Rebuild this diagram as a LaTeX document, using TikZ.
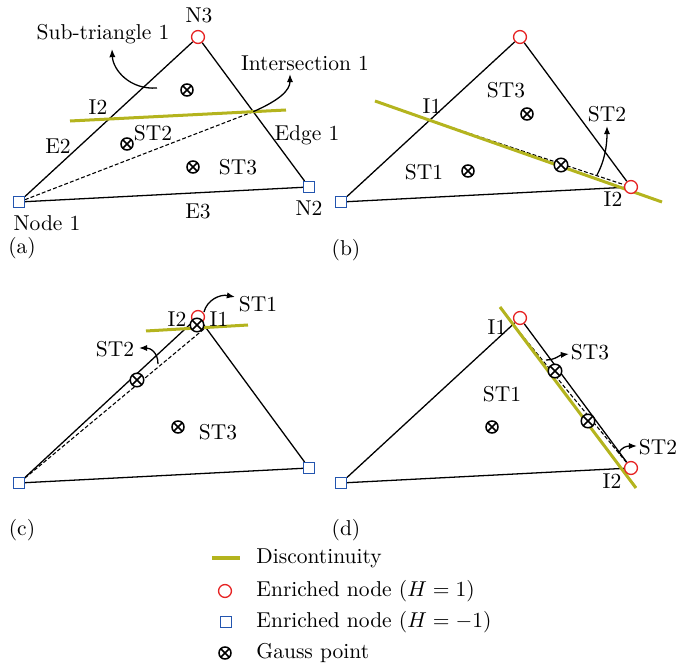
\documentclass[tikz,border=0pt]{standalone}
\usetikzlibrary{arrows.meta}
\definecolor{disc}{RGB}{180,180,30}
\definecolor{enrred}{RGB}{230,35,35}
\definecolor{enrblue}{RGB}{35,85,175}
\pgfdeclarelayer{bg}
\pgfdeclarelayer{mid}
\pgfsetlayers{bg,mid,main}
\tikzset{
 edge/.style={line width=0.6pt},
 dline/.style={line width=0.5pt, dash pattern=on 1.8pt off 1pt},
 discline/.style={draw=disc, line width=1.4pt},
 rnode/.style={circle, draw=enrred, fill=white, line width=0.6pt, minimum size=6pt, inner sep=0pt},
 bnode/.style={rectangle, draw=enrblue, fill=white, line width=0.65pt, minimum size=4.9pt, inner sep=0pt},
 gauss/.style={circle, draw, fill=white, line width=0.7pt, minimum size=5.6pt, inner sep=0pt,
   path picture={\draw[line width=0.7pt] (path picture bounding box.north west) -- (path picture bounding box.south east)
     (path picture bounding box.north east) -- (path picture bounding box.south west);}},
 biggauss/.style={gauss, minimum size=6.3pt},
 lbl/.style={inner sep=0pt},
 callout/.style={line width=0.6pt, -{Latex[length=3.8pt,width=2.9pt]}},
}
\begin{document}
\begin{tikzpicture}[x=0.4651pt,y=-0.4651pt]
\useasboundingbox (0,0) rectangle (691,666);

% ---------------- (a) ----------------
\node[bnode] (a1) at (19,202) {};
\node[bnode] (a2) at (309,187) {};
\node[rnode] (a3) at (198,37) {};
\coordinate (ad1) at (70,121);
\coordinate (ad2) at (286,110);
\coordinate (aI1) at (intersection of a3--a2 and ad1--ad2);
\begin{pgfonlayer}{bg}
\draw[edge] (a1) -- (a3) (a3) -- (a2) (a1) -- (a2);
\draw[dline] (a1) -- (aI1);
\end{pgfonlayer}
\begin{pgfonlayer}{mid}
\draw[discline] (ad1) -- (ad2);
\end{pgfonlayer}
\node[gauss] (ag1) at (187,90) {};
\node[gauss] (ag2) at (127,144) {};
\node[gauss] (ag3) at (193,167) {};
\node[lbl] (aN3) at (199,15) {N3};
\node[lbl] (aSub) at (103,34) {Sub-triangle 1};
\node[lbl] (aInt) at (305,63) {Intersection 1};
\node[lbl] (aI2) at (98,107) {I2};
\node[lbl] (aST2) at (153,133) {ST2};
\node[lbl] (aE2) at (58,146) {E2};
\node[lbl] (aEdge) at (307,135) {Edge 1};
\node[lbl] (aST3) at (238,167) {ST3};
\node[lbl] (aE3) at (198,211) {E3};
\node[lbl] (aN2) at (309,208) {N2};
\node[lbl] (aNode) at (47,223) {Node 1};
\node[lbl] (acap) at (22,248) {(a)};
\coordinate (asa) at (157,88);
\coordinate (asb) at (112,49);
\draw[callout] (asa) .. controls (130,90) and (113,70) .. (asb);
\coordinate (aib) at (290,74);
\draw[callout] (aI1) .. controls (280,100) and (290,90) .. (aib);

% ---------------- (b) ----------------
\node[bnode] (b1) at (341,202) {};
\node[rnode] (b2) at (631,187) {};
\node[rnode] (b3) at (520,37) {};
\coordinate (bd1) at (375,101);
\coordinate (bd2) at (662,202);
\coordinate (bI1) at (intersection of b1--b3 and bd1--bd2);
\begin{pgfonlayer}{bg}
\draw[edge] (b1) -- (b3) (b3) -- (b2) (b1) -- (b2);
\draw[dline] (bI1) -- (b2);
\end{pgfonlayer}
\begin{pgfonlayer}{mid}
\draw[discline] (bd1) -- (bd2);
\end{pgfonlayer}
\node[gauss] (bg1) at (527,114) {};
\node[gauss] (bg2) at (468,171) {};
\node[biggauss] (bg3) at (561,165) {};
\node[lbl] (bST3) at (506,90) {ST3};
\node[lbl] (bI1l) at (432,106) {I1};
\node[lbl] (bST2) at (607,114) {ST2};
\node[lbl] (bST1) at (424,172) {ST1};
\node[lbl] (bI2) at (613,199) {I2};
\node[lbl] (bcap) at (346,250) {(b)};
\coordinate (bsa) at (597,175);
\coordinate (bsb) at (607,126);
\draw[callout] (bsa) .. controls (605,160) and (607,145) .. (bsb);

% ---------------- (c) ----------------
\node[bnode] (c1) at (19,483) {};
\node[bnode] (c2) at (309,468) {};
\node[rnode] (c3) at (198,317) {};
\coordinate (cd1) at (146,331);
\coordinate (cd2) at (248,325);
\coordinate (cI1) at (intersection of c3--c2 and cd1--cd2);
\begin{pgfonlayer}{bg}
\draw[edge] (c1) -- (c3) (c3) -- (c2) (c1) -- (c2);
\draw[dline] (c1) -- (cI1);
\end{pgfonlayer}
\begin{pgfonlayer}{mid}
\draw[discline] (cd1) -- (cd2);
\end{pgfonlayer}
\node[biggauss] (cg1) at (197,325) {};
\node[biggauss] (cg2) at (137,380) {};
\node[gauss] (cg3) at (178,427) {};
\node[lbl] (cST1) at (258,304) {ST1};
\node[lbl] (cI2) at (177,319) {I2};
\node[lbl] (cI1l) at (219,319) {I1};
\node[lbl] (cST2) at (115,349) {ST2};
\node[lbl] (cST3) at (218,432) {ST3};
\node[lbl] (ccap) at (22,530) {(c)};
\coordinate (csa) at (158,364);
\coordinate (csb) at (139,348);
\draw[callout] (csa) .. controls (158,352) and (150,348) .. (csb);
\coordinate (cta) at (204,312);
\coordinate (ctb) at (235,297);
\draw[callout] (cta) .. controls (207,300) and (220,294) .. (ctb);

% ---------------- (d) ----------------
\node[bnode] (d1) at (341,483) {};
\node[rnode] (d2) at (631,468) {};
\node[rnode] (d3) at (520,318) {};
\coordinate (dd1) at (500,307);
\coordinate (dd2) at (636,488);
\coordinate (dI1) at (intersection of d1--d3 and dd1--dd2);
\begin{pgfonlayer}{bg}
\draw[edge] (d1) -- (d3) (d3) -- (d2) (d1) -- (d2);
\draw[dline] (dI1) -- (d2);
\end{pgfonlayer}
\begin{pgfonlayer}{mid}
\draw[discline] (dd1) -- (dd2);
\end{pgfonlayer}
\node[gauss] (dg1) at (492,427) {};
\node[biggauss] (dg2) at (555,371) {};
\node[biggauss] (dg3) at (588,421) {};
\node[lbl] (dI1l) at (497,327) {I1};
\node[lbl] (dST3) at (590,352) {ST3};
\node[lbl] (dST1) at (502,394) {ST1};
\node[lbl] (dST2) at (658,447) {ST2};
\node[lbl] (dI2) at (612,481) {I2};
\node[lbl] (dcap) at (346,530) {(d)};
\coordinate (dsa) at (546,360);
\coordinate (dsb) at (569,354);
\draw[callout] (dsa) .. controls (555,360) and (560,355) .. (dsb);
\coordinate (dta) at (619,454);
\coordinate (dtb) at (637,446);
\draw[callout] (dta) .. controls (620,447) and (628,446) .. (dtb);

% ---------------- legend ----------------
\coordinate (l1a) at (212,558);
\coordinate (l1b) at (240,558);
\draw[discline] (l1a) -- (l1b);
\node[rnode] (l2) at (225,591) {};
\node[bnode] (l3) at (226,622) {};
\node[gauss] (l4) at (225,653) {};
\node[lbl, anchor=west] (t1) at (256,558) {Discontinuity};
\node[lbl, anchor=west] (t2) at (256,591) {Enriched node ($H=1$)};
\node[lbl, anchor=west] (t3) at (256,622) {Enriched node ($H=-1$)};
\node[lbl, anchor=west] (t4) at (256,653) {Gauss point};
\end{tikzpicture}
\end{document}
